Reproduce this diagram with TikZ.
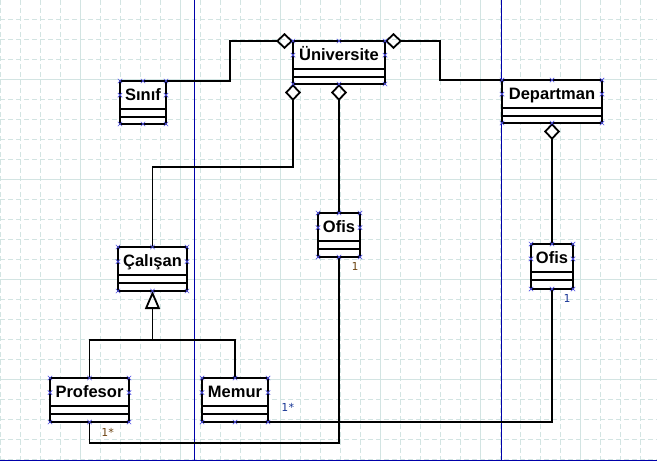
\documentclass[tikz,border=0pt]{standalone}
\usepackage{fontspec}
\setmainfont{Liberation Sans}
\newfontfamily\lblfont{DejaVu Sans Mono}
\usetikzlibrary{arrows.meta,calc}
\definecolor{gridc}{RGB}{210,228,226}
\definecolor{bluel}{RGB}{0,0,170}
\definecolor{hndc}{RGB}{80,80,230}
\definecolor{lbrown}{RGB}{110,70,20}
\definecolor{lblue}{RGB}{25,55,150}
\tikzset{
 cls/.style={draw=black, fill=white, line width=1.8pt, rectangle, inner sep=0pt, outer sep=0pt, anchor=north},
 clsname/.style={font=\fontsize{16.5}{18}\selectfont\bfseries, inner sep=0pt, anchor=base},
 conn/.style={line width=1.8pt, black},
 agg/.style={conn, -{Diamond[open, length=17pt, width=16pt]}},
 aggs/.style={conn, {Diamond[open, length=17pt, width=16pt]}-},
 inh/.style={conn, {Triangle[open, length=18pt, width=15pt]}-},
 mult/.style={font=\lblfont\fontsize{11}{13}\selectfont, inner sep=0pt},
 hnd/.style={draw=hndc, line width=0.7pt},
 gridminor/.style={draw=gridc, line width=0.9pt, dash pattern=on 5pt off 3pt},
 gridmajor/.style={draw=gridc, line width=0.9pt},
 bline/.style={draw=bluel, line width=1pt},
}
\newcommand\umlclass[6]{% name, cx, top, width, height, text
 \node[cls, minimum width=#4pt, minimum height=#5pt] (#1) at (#2,#3) {};
 \node[clsname] (#1-t) at ($(#1.north)+(0,19.5)$) {#6};
 \draw[line width=1.8pt] ($(#1.north west)+(0,28)$) -- ($(#1.north east)+(0,28)$);
 \draw[line width=1.8pt] ($(#1.north west)+(0,36)$) -- ($(#1.north east)+(0,36)$);
}
\newcommand\hxmark[1]{\draw[hnd] #1 +(-2.2,-2.2) -- +(2.2,2.2) +(-2.2,2.2) -- +(2.2,-2.2);}
\newcommand\handles[1]{%
 \foreach \a in {north west,north,north east,south west,south,south east}{\hxmark{(#1.\a)}}
 \hxmark{($(#1.north west)!0.33!(#1.south west)$)}
 \hxmark{($(#1.north east)!0.33!(#1.south east)$)}
}
\begin{document}
\begin{tikzpicture}[x=1pt,y=-1pt]
\useasboundingbox (0,0) rectangle (657,461);
\fill[white] (0,0) rectangle (657,461);
% grid
\foreach \x in {0,20,...,640}{\draw[gridminor] (\x,0) -- (\x,461);}
\foreach \y in {19,39,...,459}{\draw[gridminor] (0,\y) -- (657,\y);}
\foreach \x in {80,180,...,580}{\draw[gridmajor] (\x,0) -- (\x,461);}
\foreach \y in {79,179,279,379}{\draw[gridmajor] (0,\y) -- (657,\y);}
% blue guide lines
\draw[bline] (194,0) -- (194,461);
\draw[bline] (501,0) -- (501,461);
\draw[bline] (0,460) -- (657,460);
% classes
\umlclass{uni}{339}{41}{92}{43}{Üniversite}
\umlclass{sinif}{143}{81}{46}{43}{Sınıf}
\umlclass{dep}{552}{80}{100}{43}{Departman}
\umlclass{ofisa}{339}{213}{42}{44}{Ofis}
\umlclass{ofisb}{552}{244}{42}{45}{Ofis}
\umlclass{cal}{152.5}{247}{69}{44}{Çalışan}
\umlclass{prof}{89.5}{378}{79}{44}{Profesor}
\umlclass{memur}{235}{378}{66}{44}{Memur}
% connectors
\draw[agg] (sinif.north east) -- (230,81) -- (230,41) -- (uni.north west);
\draw[aggs] (uni.north east) -- (440,41) -- (440,80) -- (dep.north west);
\draw[aggs] (uni.south west) -- ++(0,83) -| (cal.north);
\draw[aggs] (uni.south) -- (ofisa.north);
\draw[aggs] (dep.south) -- (ofisb.north);
\coordinate (split) at (152.5,340);
\draw[inh] (cal.south) -- (split);
\draw[conn] (prof.north) |- (split) -| (memur.north);
\draw[conn] (ofisa.south) |- ($(prof.south)+(0,21)$) -- (prof.south);
\draw[conn] (ofisb.south) |- (memur.south east);
% multiplicities
\node[mult, text=lbrown] (m1) at (355,266) {1};
\node[mult, text=lblue] (m2) at (567,298) {1};
\node[mult, text=lblue] (m3) at (288,407) {1*};
\node[mult, text=lbrown] (m4) at (108,432) {1*};
% selection handles
\handles{uni}\handles{sinif}\handles{dep}\handles{ofisa}
\handles{ofisb}\handles{cal}\handles{prof}\handles{memur}
\end{tikzpicture}
\end{document}
